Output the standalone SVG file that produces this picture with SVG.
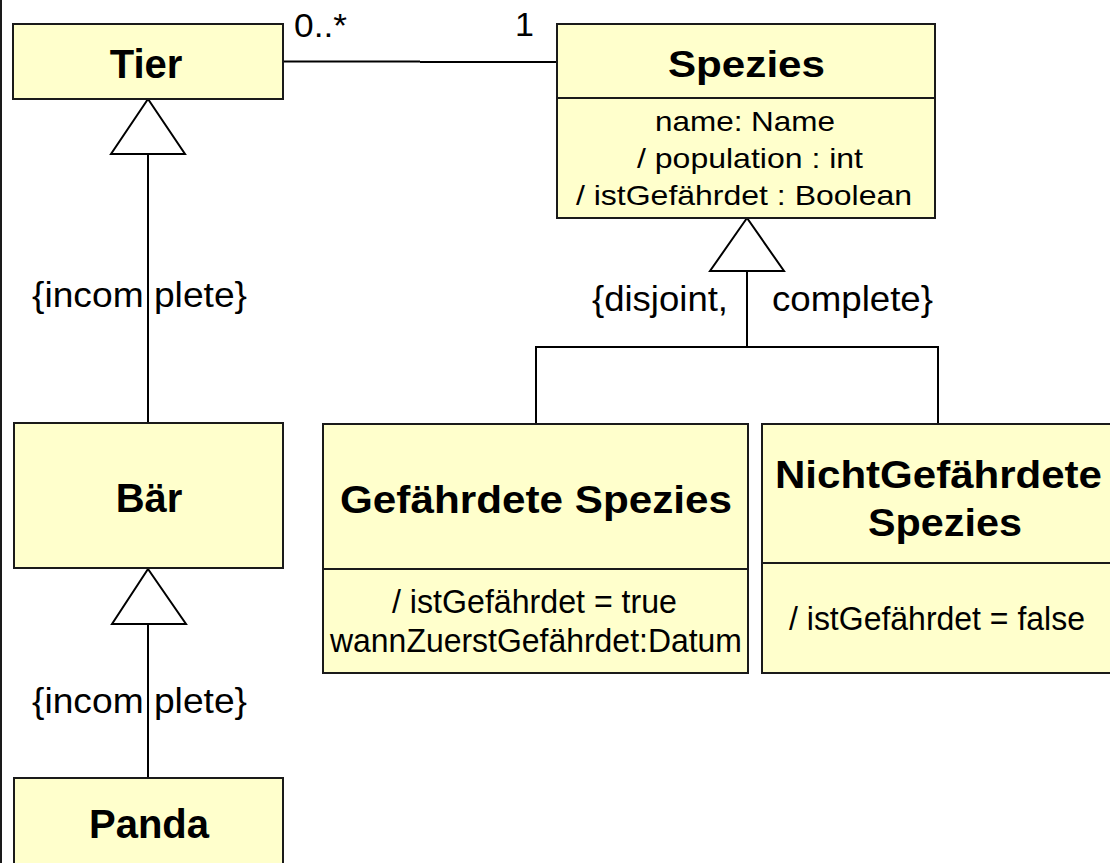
<svg xmlns="http://www.w3.org/2000/svg" width="1110" height="863" viewBox="0 0 1110 863">
<style>
.box{fill:#FFFFCC;stroke:#1a1a1a;stroke-width:2}
.div{stroke:#1a1a1a;stroke-width:2}
.hd{font-family:"Liberation Sans",Arial,sans-serif;font-weight:bold;fill:#000}
.tx{font-family:"Liberation Sans",Arial,sans-serif;fill:#000}
.ln{fill:none;stroke:#000;stroke-width:2}
.tri{fill:#fff;stroke:#000;stroke-width:2;stroke-linejoin:miter}
</style>
<rect width="1110" height="863" fill="#fff"/>
<line x1="1" y1="0" x2="1" y2="863" stroke="#1a1a1a" stroke-width="2"/>
<g id="connectors">
<path class="ln" d="M283 61.5 H420 M420 62 H557"/>
<line class="ln" x1="148" y1="154" x2="148" y2="423"/>
<line class="ln" x1="148" y1="624" x2="148" y2="778"/>
<line class="ln" x1="747" y1="271" x2="747" y2="347"/>
<polyline class="ln" points="536,424 536,347 938,347 938,424"/>
<polygon class="tri" points="148,99 111,154 185,154"/>
<polygon class="tri" points="148,569 112,624 186,624"/>
<polygon class="tri" points="747,218 710,271 784,271"/>
<text class="tx" x="294" y="37" font-size="34" textLength="53" lengthAdjust="spacingAndGlyphs">0..*</text>
<text class="tx" x="515" y="36" font-size="34">1</text>
<text class="tx" x="32" y="307" font-size="35" textLength="215" lengthAdjust="spacingAndGlyphs">{incom plete}</text>
<text class="tx" x="32" y="713" font-size="35" textLength="215" lengthAdjust="spacingAndGlyphs">{incom plete}</text>
<text class="tx" x="592" y="311" font-size="35" textLength="136" lengthAdjust="spacingAndGlyphs">{disjoint,</text>
<text class="tx" x="772" y="311" font-size="35" textLength="161" lengthAdjust="spacingAndGlyphs">complete}</text>
</g>
<g id="tier">
<rect class="box" x="13" y="24" width="270" height="75"/>
<text class="hd" x="146" y="78" font-size="40" text-anchor="middle">Tier</text>
</g>
<g id="spezies">
<rect class="box" x="557" y="24" width="378" height="194"/>
<line class="div" x1="557" y1="98" x2="935" y2="98"/>
<text class="hd" x="746.5" y="77" font-size="36" text-anchor="middle" textLength="157" lengthAdjust="spacingAndGlyphs">Spezies</text>
<text class="tx" x="745" y="131" font-size="28" text-anchor="middle" textLength="180" lengthAdjust="spacingAndGlyphs">name: Name</text>
<text class="tx" x="750" y="168" font-size="28" text-anchor="middle" textLength="226" lengthAdjust="spacingAndGlyphs">/ population : int</text>
<text class="tx" x="744" y="205" font-size="28" text-anchor="middle" textLength="336" lengthAdjust="spacingAndGlyphs">/ istGefährdet : Boolean</text>
</g>
<g id="baer">
<rect class="box" x="14" y="423" width="269" height="145"/>
<text class="hd" x="149" y="512" font-size="40" text-anchor="middle">Bär</text>
</g>
<g id="panda">
<rect class="box" x="14" y="778" width="269" height="120"/>
<text class="hd" x="149" y="838" font-size="40" text-anchor="middle">Panda</text>
</g>
<g id="gefaehrdete">
<rect class="box" x="323" y="424" width="425" height="249"/>
<line class="div" x1="323" y1="569" x2="748" y2="569"/>
<text class="hd" x="536" y="513" font-size="38" text-anchor="middle" textLength="392" lengthAdjust="spacingAndGlyphs">Gefährdete Spezies</text>
<text class="tx" x="534.5" y="613" font-size="33" text-anchor="middle" textLength="285" lengthAdjust="spacingAndGlyphs">/ istGefährdet = true</text>
<text class="tx" x="536" y="652" font-size="33" text-anchor="middle" textLength="412" lengthAdjust="spacingAndGlyphs">wannZuerstGefährdet:Datum</text>
</g>
<g id="nichtgefaehrdete">
<rect class="box" x="762" y="424" width="370" height="249"/>
<line class="div" x1="762" y1="563" x2="1132" y2="563"/>
<text class="hd" x="938.5" y="488" font-size="38" text-anchor="middle" textLength="327" lengthAdjust="spacingAndGlyphs">NichtGefährdete</text>
<text class="hd" x="945" y="536" font-size="38" text-anchor="middle" textLength="154" lengthAdjust="spacingAndGlyphs">Spezies</text>
<text class="tx" x="937" y="630" font-size="33" text-anchor="middle" textLength="296" lengthAdjust="spacingAndGlyphs">/ istGefährdet = false</text>
</g>
</svg>
